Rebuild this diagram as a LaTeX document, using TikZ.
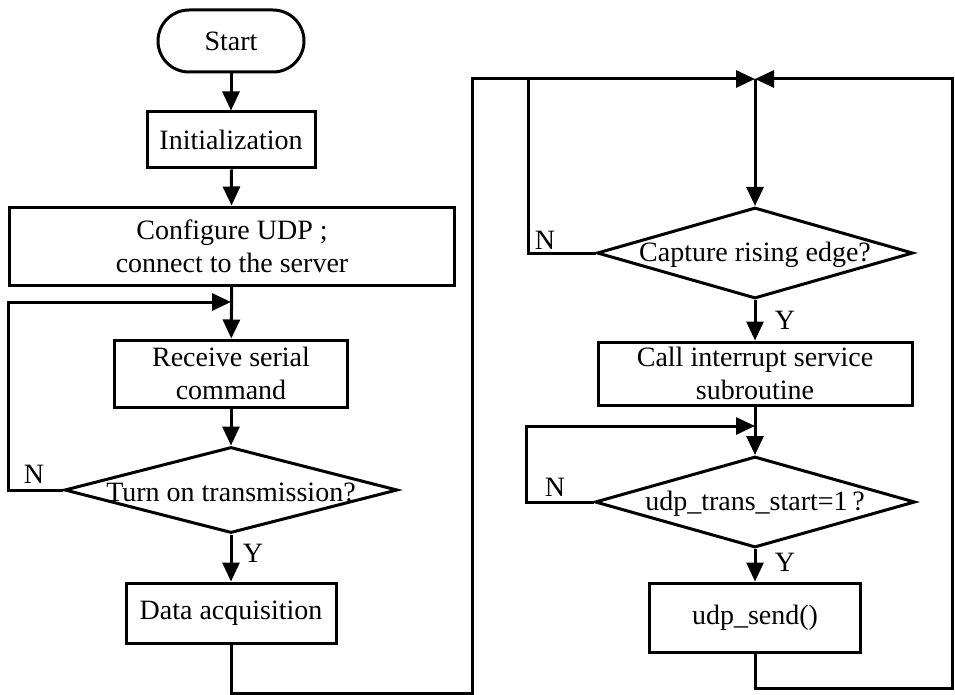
\documentclass[tikz,border=0pt]{standalone}
\usepackage{fontspec}
\setmainfont{Liberation Serif}
\usetikzlibrary{arrows.meta,shapes.geometric}
\begin{document}
\begin{tikzpicture}[x=1pt,y=-1pt, line width=3pt,
  txt/.style={font=\fontsize{28}{33}\selectfont},
  box/.style={draw, rectangle, inner sep=0pt, align=center, txt},
  term/.style={draw, rectangle, rounded corners=31pt, inner sep=0pt, align=center, txt},
  dec/.style={draw, diamond, inner sep=0pt},
  lbl/.style={txt, inner sep=0pt},
  arr/.style={-{Triangle[length=19pt,width=17pt]}},
  line/.style={-}]
\useasboundingbox (0,0) rectangle (955,695);

% left column
\node[term, minimum width=146pt, minimum height=62pt] (start) at (231,41) {Start};
\node[box, minimum width=168pt, minimum height=56pt] (init) at (231,140) {Initialization};
\node[box, minimum width=445pt, minimum height=78pt] (cfg) at (232,246) {Configure UDP ;\\connect to the server};
\node[box, minimum width=233pt, minimum height=67pt] (rcv) at (231,373.5) {Receive serial\\command};
\node[dec, minimum width=333pt, minimum height=86pt] (d1) at (231,490) {};
\node[lbl] (d1t) at (231,492) {Turn on transmission?};
\node[box, minimum width=210pt, minimum height=60pt] (daq) at (231,613) {Data acquisition};

% right column
\node[dec, minimum width=316pt, minimum height=91pt] (d2) at (755,253) {};
\node[lbl] (d2t) at (755,255) {Capture rising edge?};
\node[box, minimum width=314pt, minimum height=63pt] (isr) at (755,373.5) {Call interrupt service\\subroutine};
\node[dec, minimum width=320pt, minimum height=91pt] (d3) at (755,502) {};
\node[lbl] (d3t) at (755,504) {udp\_trans\_start=1\,?};
\node[box, minimum width=211pt, minimum height=69pt] (send) at (755,617.5) {udp\_send()};

% labels
\node[lbl] (n1) at (34,474) {N};
\node[lbl] (y1) at (253,553) {Y};
\node[lbl] (n2) at (545,240) {N};
\node[lbl] (y2) at (785,320) {Y};
\node[lbl] (n3) at (555,487) {N};
\node[lbl] (y3) at (785,562) {Y};

% junction coordinates
\coordinate (j1) at (231,302);
\coordinate (j2) at (755,79);
\coordinate (j3) at (755,426);
\coordinate (c1) at (472,693);
\coordinate (c2) at (528,79);
\coordinate (c3) at (952,688);

% left connectors
\draw[arr] (start) -- (init);
\draw[arr] (init) -- (cfg);
\draw[arr] (cfg) -- (rcv);
\draw[arr] (rcv) -- (d1.north);
\draw[arr] (d1.west) -- ++(-55,0) |- (j1);
\draw[arr] (d1.south) -- (daq.north);
\draw[arr] (daq.south) |- (c1) |- (j2);

% right connectors
\draw[line] (d2.west) -| (c2);
\draw[arr] (j2) -- (d2.north);
\draw[arr] (d2.south) -- (isr.north);
\draw[arr] (isr.south) -- (d3.north);
\draw[arr] (d3.west) -- ++(-67,0) |- (j3);
\draw[arr] (d3.south) -- (send.north);
\draw[arr] (send.south) |- (c3) |- (j2);
\end{tikzpicture}
\end{document}
